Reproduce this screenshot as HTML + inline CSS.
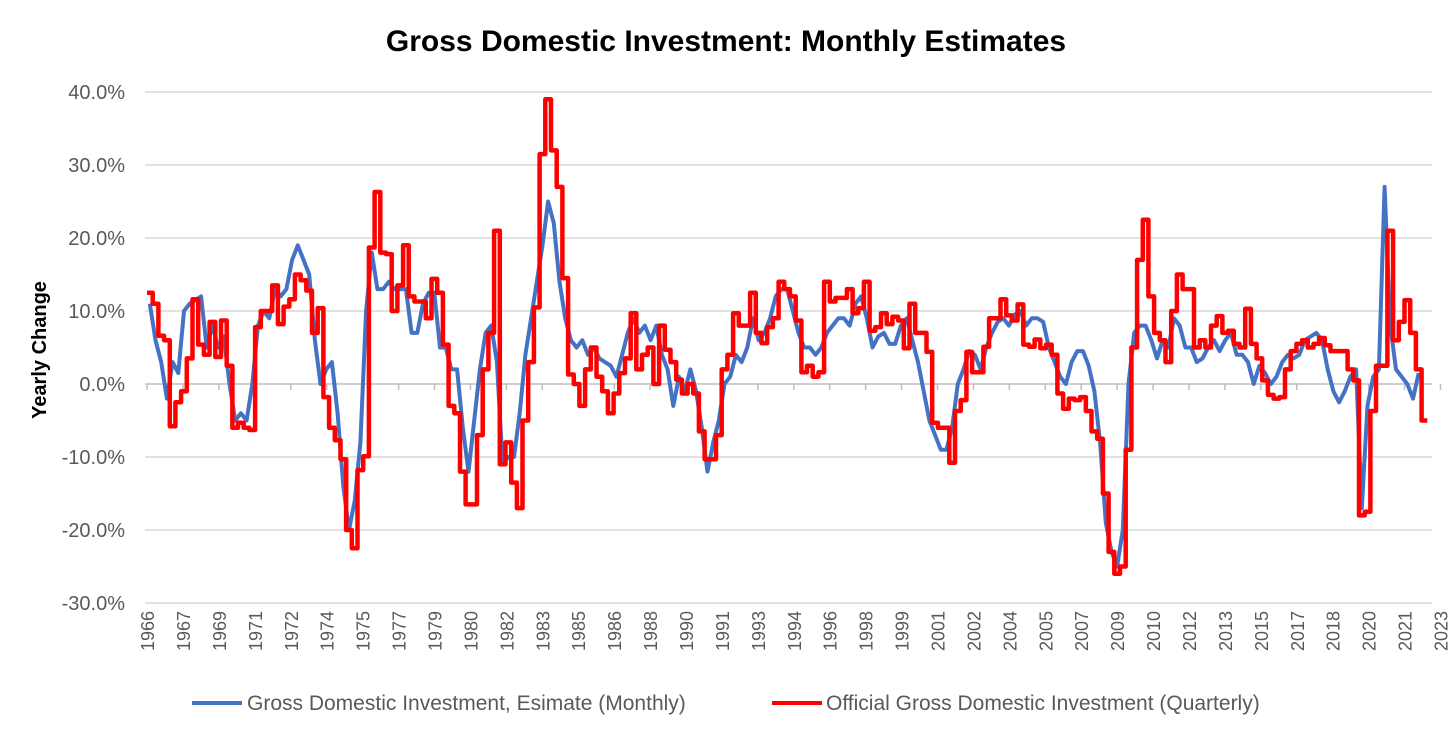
<!DOCTYPE html>
<html><head><meta charset="utf-8"><style>
html,body{margin:0;padding:0;background:#fff;}
svg text{font-family:"Liberation Sans",Calibri,sans-serif;}
</style></head><body>
<svg id="chart" width="1456" height="731" xmlns="http://www.w3.org/2000/svg">
<rect width="1456" height="731" fill="#fff"/>
<text x="726" y="51" text-anchor="middle" font-size="30" font-weight="bold" fill="#000">Gross Domestic Investment: Monthly Estimates</text>
<text transform="translate(46,350) rotate(-90)" text-anchor="middle" font-size="20" font-weight="bold" fill="#000">Yearly Change</text>
<g id="grid"></g><g id="yticks"></g><g id="xticks"></g><g id="series"></g>
<g>
<line x1="192" y1="703" x2="242" y2="703" stroke="#4472C4" stroke-width="4"/>
<text x="247" y="710" font-size="21" fill="#595959">Gross Domestic Investment, Esimate (Monthly)</text>
<line x1="772" y1="703" x2="822" y2="703" stroke="#FF0000" stroke-width="4"/>
<text x="826" y="710" font-size="21" fill="#595959">Official Gross Domestic Investment (Quarterly)</text>
</g>
</svg>
<script>
const yTicks=[40,30,20,10,0,-10,-20,-30];
const xLabels=["1966","1967","1969","1971","1972","1974","1975","1977","1979","1980","1982","1983","1985","1986","1988","1990","1991","1993","1994","1996","1998","1999","2001","2002","2004","2005","2007","2009","2010","2012","2013","2015","2017","2018","2020","2021","2023"];
const officialQuarterly=[12.5,11,6.6,6,-5.8,-2.5,-1,3.5,11.6,5.4,4,8.5,3.7,8.7,2.5,-6,-5.3,-6,-6.3,7.8,10,10,13.5,8.2,10.6,11.6,15,14.2,12.8,7,10.4,-1.8,-6,-7.7,-10.3,-20,-22.5,-11.8,-9.9,18.7,26.3,18,17.8,10,13.5,19,12,11.3,11.3,9,14.4,12.5,5.4,-3,-4,-12,-16.5,-16.5,-7,2,7,21,-11,-8,-13.5,-17,-5,3,10.5,31.5,39,32,27,14.5,1.3,0,-3,2,5,1,-1,-4,-1.3,1.5,3.5,9.7,2,4,5,0,8,4.7,3,0.6,-1.3,0,-1.3,-6.5,-10.3,-10.3,-7,2,4,9.7,8,8,12.5,7,5.6,7.8,9,14,13,12,8.7,1.6,2.5,1,1.6,14,11.3,11.8,11.8,13,9.7,10.4,14,7.3,7.8,9.7,8.2,9.2,8.7,4.9,11,7,7,4.4,-5.3,-6,-6,-10.8,-3.7,-2.2,4.4,1.6,1.6,5.1,9,9,11.6,9.4,8.7,10.9,5.4,5.1,6.1,4.9,5.4,4,-1.3,-3.4,-2,-2.2,-1.8,-3.7,-6.5,-7.5,-15,-23,-26,-25,-9,5,17,22.5,12,7,6,3,10,15,13,13,5,6,5,8,9.3,7,7.3,5.5,5,10.3,5.5,3.5,0.5,-1.5,-2,-1.8,2,4.5,5.5,6,5,5.5,6.3,5.3,4.5,4.5,4.5,2,0.5,-18,-17.5,-3.7,2.5,2.5,21,6,8.5,11.5,7,2,-5];
const estimateMonthly=[11,6,3,-2,3,1.5,10,11,11.5,12,5,8,5,6.5,0,-5,-4,-5,0,8,10,9,13,12,13,17,19,17,15,6,0,2,3,-4,-14,-20,-16,-8,10,18,13,13,14,13,13,13,7,7,11,12.5,12.5,5,5,2,2,-6,-12,-5,2,7,8,3,-11,-10,-10,-4,4,9,14,19,25,22,14,9,6,5,6,4,5,3.5,3,2.5,1,4,7,9,7,8,6,8,4,2,-3,1,-1,2,-1,-6,-12,-8,-5,0,1,4,3,5,9,6,7,9,12,13,13,10,7,5,5,4,5,7,8,9,9,8,11,12,9,5,6.5,7,5.5,5.5,8,9,6,3,-1,-5,-7,-9,-9,-6,0,2,4.5,4,2,5,7,8.5,9,8,9.5,10,8,9,9,8.5,5,3,1,0,3,4.5,4.5,2.5,-1,-8,-19,-23,-25,-20,0,7,8,8,6,3.5,6,5,9,8,5,5,3,3.5,5,6,4.5,6,7,4,4,3,0,2.5,1.5,0,1,3,4,3.5,4,6,6.5,7,6,2,-1,-2.5,-1,1,2,-17,-3,1,2,27,8,2,1,0,-2,1.5];

const NS="http://www.w3.org/2000/svg";
const X0=147, QW=5.69, PX0=145, PX1=1432;
const yScale=v=>384-v*7.3;
const xQ=q=>X0+q*QW;
const xMonth=m=>X0+m*QW/3;
function mk(tag,attrs,parent){const e=document.createElementNS(NS,tag);for(const k in attrs)e.setAttribute(k,attrs[k]);parent.appendChild(e);return e;}
const grid=document.getElementById('grid'),yt=document.getElementById('yticks'),xt=document.getElementById('xticks'),ser=document.getElementById('series');
yTicks.forEach(v=>{
 const l=mk('line',{x1:PX0,x2:PX1,y1:yScale(v),y2:yScale(v),stroke:v===0?'#bfbfbf':'#d9d9d9','stroke-width':1.5},grid);
 
 
 const t=mk('text',{x:125,y:yScale(v)+7,'text-anchor':'end','font-size':20,fill:'#595959'},yt);
 t.textContent=v.toFixed(1)+'%';
 
 
});
xLabels.forEach((lab,i)=>{
 const x=xMonth(i*19)*0.997+0.5;
 const tk=mk('line',{x1:x,x2:x,y1:384,y2:390,stroke:'#bfbfbf','stroke-width':1.5},xt);
 
 
 const t=mk('text',{transform:`translate(${x+7},${611}) rotate(-90)`,'text-anchor':'end','font-size':18,fill:'#595959'},xt);
 t.textContent=lab;
 
 
});
let db='';
estimateMonthly.forEach((v,q)=>{db+=(q?'L':'M')+(xQ(q)+QW/2).toFixed(1)+' '+yScale(v).toFixed(1);});
const bl=mk('path',{d:db,fill:'none',stroke:'#4472C4','stroke-width':4,'stroke-linejoin':'round'},ser);


let dr='';
officialQuarterly.forEach((v,q)=>{dr+=(q?'L':'M')+xQ(q).toFixed(1)+' '+yScale(v).toFixed(1)+'L'+(xQ(q)+QW).toFixed(1)+' '+yScale(v).toFixed(1);});
const rl=mk('path',{d:dr,fill:'none',stroke:'#FF0000','stroke-width':4.5,'stroke-linejoin':'round'},ser);


</script>
</body></html>
